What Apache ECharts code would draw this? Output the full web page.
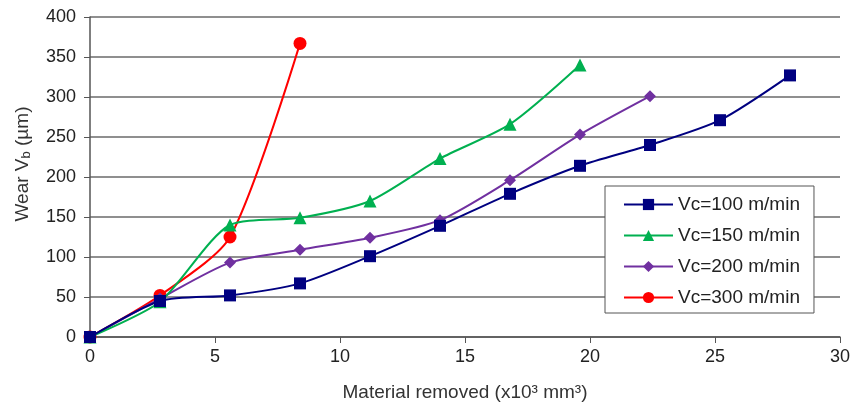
<!DOCTYPE html>
<html><head><meta charset="utf-8">
<script src="https://cdn.jsdelivr.net/npm/echarts@6/dist/echarts.min.js"></script>
<style>html,body{margin:0;padding:0;background:#fff}#c{width:862px;height:402px}</style>
</head><body><div id="c"></div>
<script>
const xValues = [0, 2.8, 5.6, 8.4, 11.2, 14, 16.8, 19.6, 22.4, 25.2, 28];
const seriesNames = ['Vc=100 m/min', 'Vc=150 m/min', 'Vc=200 m/min', 'Vc=300 m/min'];
const wear100 = [0, 45, 52, 67, 101, 139, 179, 214, 240, 271, 327];
const wear150 = [0, 44, 140, 149, 170, 223, 266, 340];
const wear200 = [0, 48, 93, 109, 124, 146, 196, 253, 301];
const wear300 = [0, 52, 125, 367];
const xTicks = [0, 5, 10, 15, 20, 25, 30];
const yTicks = [0, 50, 100, 150, 200, 250, 300, 350, 400];

const colors = ['#000080', '#00b050', '#7030a0', '#ff0000'];
const symbols = ['rect', 'triangle', 'diamond', 'circle'];
const sizes = [12, 13, 12, 13];
const all = [wear100, wear150, wear200, wear300];

const series = all.map((arr, i) => ({
  name: seriesNames[i],
  type: 'line',
  smooth: 0.25,
  data: arr.map((v, j) => [xValues[j], v]),
  symbol: symbols[i],
  symbolSize: sizes[i],
  showAllSymbol: true,
  lineStyle: { color: colors[i], width: 2 },
  itemStyle: { color: colors[i] },
  z: 10 - i
}));

const font = 'Liberation Sans, Arial, sans-serif';
const chart = echarts.init(document.getElementById('c'), null, { renderer: 'canvas' });
chart.setOption({
  animation: false,
  backgroundColor: '#fff',
  textStyle: { fontFamily: font },
  grid: { left: 90, right: 22, top: 17, bottom: 65, containLabel: false, outerBoundsMode: 'none' },
  legend: {
    orient: 'vertical',
    left: 605, top: 186,
    backgroundColor: '#fff',
    borderColor: '#555',
    borderWidth: 1,
    padding: [9, 14, 6, 18],
    itemGap: 12,
    itemWidth: 49,
    itemHeight: 14,
    textStyle: { fontSize: 19, color: '#222', fontFamily: font },
    data: seriesNames
  },
  xAxis: {
    type: 'value', min: 0, max: 30, interval: 5,
    name: 'Material removed (x10³ mm³)',
    nameLocation: 'middle', nameGap: 46,
    nameTextStyle: { fontSize: 19, color: '#333' },
    axisLine: { show: true, lineStyle: { color: '#555', width: 1.5 } },
    axisTick: { show: true, length: 6, lineStyle: { color: '#555' } },
    axisLabel: { fontSize: 18, color: '#222', margin: 11 },
    splitLine: { show: false }
  },
  yAxis: {
    type: 'value', min: 0, max: 400, interval: 50,
    name: '{a|Wear V}{s|b}{a| (µm)}',
    nameLocation: 'middle', nameGap: 57, nameRotate: 90,
    nameTextStyle: {
      padding: [0, 0, 0, 26],
      rich: { a: { fontSize: 19, color: '#333' }, s: { fontSize: 13, color: '#333', verticalAlign: 'bottom', padding: [7, 0, 0, 0] } }
    },
    axisLine: { show: true, lineStyle: { color: '#555', width: 1.5 } },
    axisTick: { show: true, length: 6, lineStyle: { color: '#555' } },
    axisLabel: { fontSize: 18, color: '#222', margin: 14 },
    splitLine: { show: true, lineStyle: { color: '#6a6a6a', width: 1.5 } }
  },
  series: series
});
</script></body></html>
